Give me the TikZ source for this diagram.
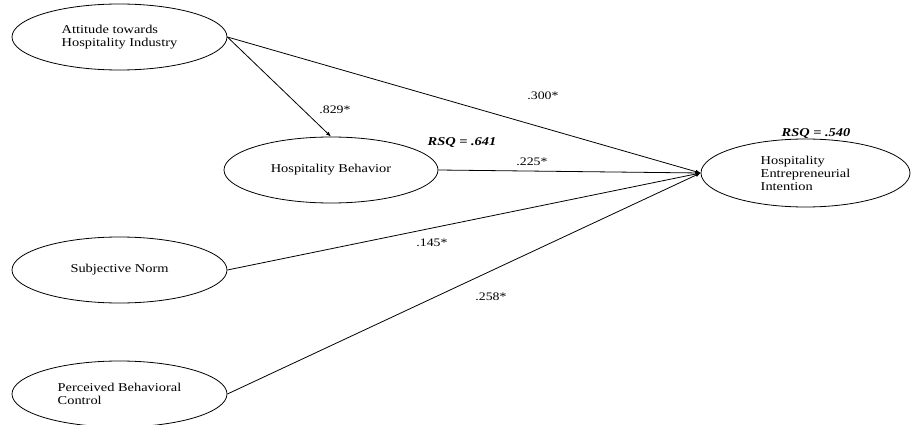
\documentclass[tikz,border=0pt]{standalone}
\usepackage{fontspec}
\setmainfont{Liberation Serif}[FakeStretch=1.2]
\usetikzlibrary{shapes.geometric,arrows.meta}

\tikzset{every picture/.style={line width=0.8pt}}
\tikzset{
  construct/.style={draw, ellipse, inner sep=0pt, align=left,
    font=\fontsize{12}{13}\selectfont},
  path/.style={-{Latex[length=5pt,width=4pt]}},
  coef/.style={font=\fontsize{11.5}{13}\selectfont},
  rsq/.style={font=\fontsize{12}{13}\selectfont\bfseries\itshape}
}

\begin{document}
\begin{tikzpicture}[x=1pt,y=1pt,yscale=-1,xscale=1]
        \useasboundingbox (0,0) rectangle (911,425);

        % constructs
        \node[construct, minimum width=215, minimum height=66] (att) at (119.5,37) {Attitude towards\\Hospitality Industry};
        \node[construct, minimum width=214, minimum height=66] (beh) at (331,170) {Hospitality Behavior};
        \node[construct, minimum width=209, minimum height=68] (int) at (805.5,173) {Hospitality\\Entrepreneurial\\Intention};
        \node[construct, minimum width=215, minimum height=66] (sn) at (119.5,270) {Subjective Norm};
        \node[construct, minimum width=215, minimum height=66] (pbc) at (119.5,394) {Perceived Behavioral\\Control};

        % paths
        \draw[path] (att.east) -- (beh.north);
        \draw[path] (att.east) -- (int.west);
        \draw[path] (beh.east) -- (int.west);
        \draw[path] (sn.east) -- (int.west);
        \draw[path] (pbc.east) -- (int.west);

        % coefficients
        \node[coef] (cAB) at (335,110) {.829*};
        \node[coef] (cAI) at (543,96) {.300*};
        \node[coef] (cBI) at (532,162) {.225*};
        \node[coef] (cSI) at (432,243) {.145*};
        \node[coef] (cPI) at (491,297) {.258*};
        \node[rsq] (rB) at (462,143) {RSQ = .641};
        \node[rsq] (rI) at (816,133) {RSQ = .540};
    \end{tikzpicture}
\end{document}
